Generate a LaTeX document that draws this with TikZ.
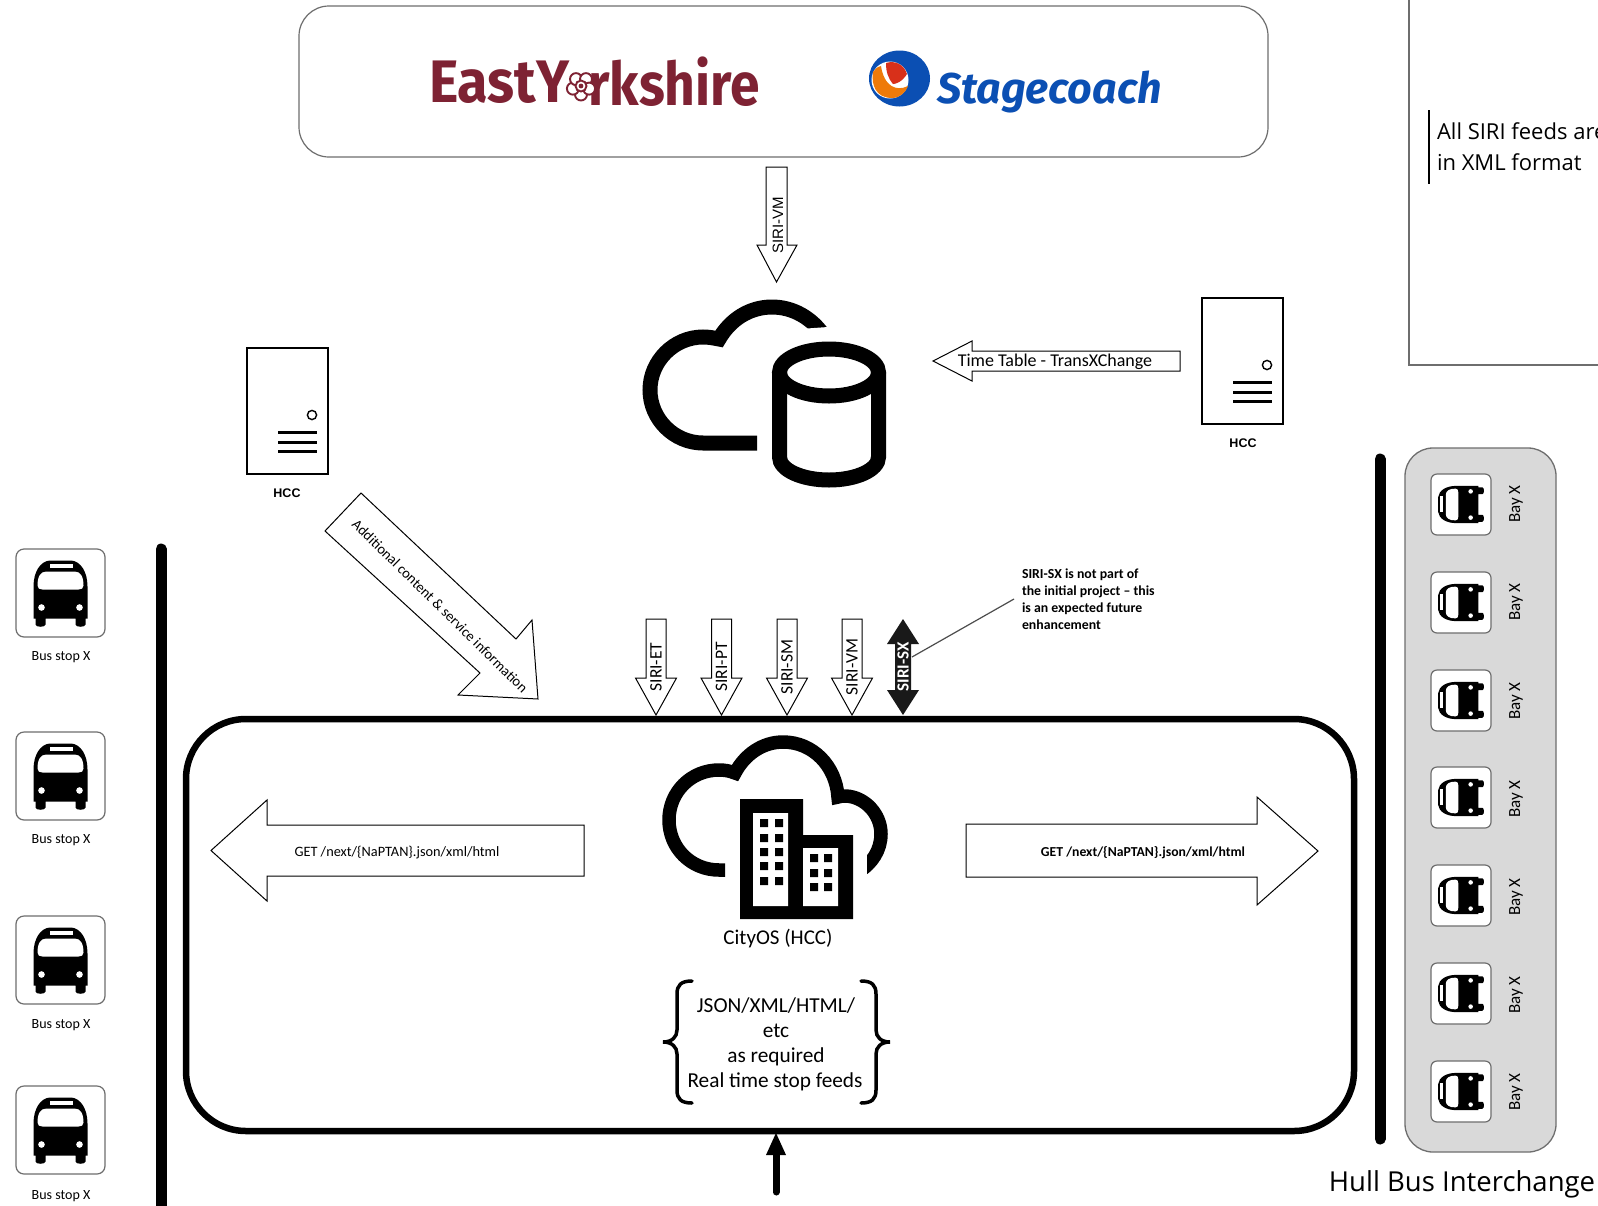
\documentclass[tikz,border=0pt]{standalone}
\usepackage{fontspec}
\setmainfont{Carlito}
\newfontfamily\logofont{Fira Sans}
\newfontfamily\uifont{Open Sans}
\newfontfamily\labelfont{Liberation Sans}
\newcommand{\pxsize}[1]{\fontsize{#1}{#1}\selectfont}
\definecolor{eyred}{HTML}{7E2233}
\definecolor{scblue}{HTML}{0B4FB3}
\definecolor{scorange}{HTML}{EE7A0A}
\definecolor{scred}{HTML}{D8301A}
\definecolor{baygrey}{HTML}{D9D9D9}
\definecolor{edgegrey}{HTML}{6E6E6E}
\tikzset{
  blockarrow/.style={draw=black,fill=white,line width=1pt,line join=miter},
  iconline/.style={draw=black,line width=15pt,line cap=butt,fill=none},
  cityline/.style={draw=black,line width=13.5pt,line cap=butt,fill=none},
  thickbar/.style={draw=black,line width=11pt,line cap=round},
  stopbox/.style={draw=edgegrey,fill=white,line width=1.2pt,rounded corners=8pt},
  braceline/.style={draw=black,line width=3.5pt,line cap=round,fill=none},
  txt/.style={inner sep=0pt,outer sep=0pt,align=center},
  pics/busicon/.style={code={
    \fill[black] (-11,-33) -- (11,-33) .. controls (20,-32) and (27,-22) .. (27,-7)
      -- (27,25) -- (25,25) -- (25,31) .. controls (25,34) and (15,34) .. (15,31) -- (15,25)
      -- (-15,25) -- (-15,31) .. controls (-15,34) and (-25,34) .. (-25,31) -- (-25,25) -- (-27,25) -- (-27,-7)
      .. controls (-27,-22) and (-20,-32) .. (-11,-33) -- cycle;
    \fill[white] (-23,-8) .. controls (-23,-17) and (-20,-22) .. (-14,-22) -- (14,-22)
      .. controls (20,-22) and (23,-17) .. (23,-8) .. controls (23,-5) and (21,-4) .. (18,-4)
      -- (-18,-4) .. controls (-21,-4) and (-23,-5) .. (-23,-8) -- cycle;
    \fill[white] (-11,-30) rectangle (12,-26);
    \fill[white] (-19,14) circle (3.3) (19,14) circle (3.3);
  }},
  pics/servericon/.style={code={
    \draw[black,fill=white,line width=1.4pt] (0,0) rectangle (81,126);
    \draw[black,line width=1.4pt] (65,67) circle (4.6);
    \draw[black,line width=3pt] (31,84) -- (70,84) (31,94) -- (70,94) (31,103) -- (70,103);
  }},
}
\newcommand{\siriarrow}[3]{% name, x, text
  \draw[blockarrow] (#2-10,619) -- (#2+10,619) -- (#2+10,678) -- (#2+20.5,678) -- (#2,715) -- (#2-20.5,678) -- (#2-10,678) -- cycle;
  \node[txt,rotate=90] (#1) at (#2,667) {\pxsize{17.5}#3};
}
\begin{document}
\begin{tikzpicture}[x=1pt,y=-1pt]
\useasboundingbox (0,0) rectangle (1598,1205);
\fill[white] (0,0) rectangle (1598,1205);

% legend frame, cut by the page
\draw[edgegrey,line width=1.2pt] (1409,-10) -- (1409,365) -- (1610,365);
\draw[black,line width=1.2pt] (1429,110) -- (1429,184);
\node[txt,anchor=west] (feedsA) at (1437,131.5) {\uifont\pxsize{22}All SIRI feeds are};
\node[txt,anchor=west] (feedsB) at (1437,162) {\uifont\pxsize{22}in XML format};

% operators
\draw[edgegrey,fill=white,line width=1.2pt,rounded corners=30pt] (299,6) rectangle (1268,157);
\node[txt,anchor=west,text=eyred,xscale=.93] (eastA) at (429,82) {\logofont\bfseries\pxsize{60}EastY};
\node[txt,anchor=east,text=eyred,xscale=.89] (eastB) at (760,82) {\logofont\bfseries\pxsize{60}rkshire};
\begin{scope}[shift={(581,86)}]
  \foreach \a in {0,72,144,216,288}{
    \draw[eyred,fill=white,line width=1.9pt] (\a+90:8.5) circle (6);
  }
  \draw[eyred,fill=white,line width=1.9pt] (0,0) circle (5.5);
  \fill[eyred] (0,0) circle (2.4);
\end{scope}
\fill[scblue] (899.5,78.5) ellipse (30.5 and 28);
\fill[white] (890,80) ellipse (18.5 and 18.5);
\fill[scorange] (873,72) .. controls (871,85) and (876,98) .. (892,98) .. controls (900,98) and (906,92) .. (908,86) .. controls (896,92) and (884,86) .. (881,66) .. controls (877,67) and (875,69) .. (873,72) -- cycle;
\fill[scred] (886,63) .. controls (896,60) and (904,65) .. (907,74) .. controls (902,82) and (896,84) .. (893,84) .. controls (888,78) and (886,72) .. (886,63) -- cycle;
\node[txt,anchor=west,text=scblue] (stage) at (937,92) {\logofont\bfseries\itshape\pxsize{43}Stagecoach};

% SIRI-VM feed
\draw[blockarrow] (766,167) -- (787,167) -- (787,245) -- (797,245) -- (776.5,282) -- (757,245) -- (766,245) -- cycle;
\node[txt,rotate=90] (vmTop) at (778,225) {\labelfont\pxsize{15}SIRI-VM};

% cloud and database
\draw[iconline] (757,443) -- (703,443) .. controls (674,443) and (650,419) .. (650,390)
  .. controls (650,361) and (674,337) .. (703,337) .. controls (709,337) and (714,338) .. (719,339)
  .. controls (730,320) and (749,307) .. (772,307) .. controls (793,307) and (812,318) .. (824,336);
\fill[white] (800,329) -- (828,327) -- (840,345) -- (800,345) -- cycle;
\draw[iconline] (829,372.5) ellipse (49.5 and 23.5);
\draw[iconline] (779.5,372.5) -- (779.5,457) .. controls (779.5,470) and (802,480) .. (829,480)
  .. controls (856,480) and (878.5,470) .. (878.5,457) -- (878.5,372.5);

% servers
\pic (serverR) at (1202,298) {servericon};
\node[txt] (hccR) at (1243,443) {\labelfont\bfseries\pxsize{12.5}HCC};
\pic (serverL) at (247,348) {servericon};
\node[txt] (hccL) at (287,493) {\labelfont\bfseries\pxsize{12.5}HCC};

% timetable
\draw[blockarrow] (1180,351) -- (972,351) -- (972,341) -- (933,361) -- (972,381) -- (972,371) -- (1180,371) -- cycle;
\node[txt] (tt) at (1055,362) {\pxsize{18}Time Table - TransXChange};

% additional content
\draw[blockarrow] (325,531) -- (361,493) -- (516,639) -- (532,620) -- (538,699) -- (458,695) -- (480,673) -- cycle;
\node[txt,rotate=-44.5] (addl) at (440,606) {\pxsize{14.5}Additional content \& service information};

% CityOS frame
\draw[black,line width=6.5pt,fill=white,rounded corners=60pt] (186,719) rectangle (1354,1131);

% SIRI feeds
\siriarrow{et}{656}{SIRI-ET}
\siriarrow{pt}{721.5}{SIRI-PT}
\siriarrow{sm}{787}{SIRI-SM}
\siriarrow{vmB}{852}{SIRI-VM}
\fill[black!90] (903,619) -- (919,644) -- (911,644) -- (911,690) -- (919,690) -- (903,715) -- (887,690) -- (895,690) -- (895,644) -- (887,644) -- cycle;
\node[txt,rotate=90,text=white] (sx) at (903,667) {\pxsize{17}\bfseries SIRI-SX};
\node[txt,anchor=north west,align=left,font={\fontsize{13.8}{16.9}\selectfont\bfseries}] (note) at (1022,569) {SIRI-SX is not part of\\the initial project -- this\\is an expected future\\enhancement};
\coordinate (noteEnd) at (1014,599);
\coordinate (sxEnd) at (912,657);
\draw[edgegrey!70!black,line width=1.2pt] (noteEnd) -- (sxEnd);

% CityOS icon
\draw[cityline] (725,870) -- (719,870) .. controls (691,870) and (669,848) .. (669,820)
  .. controls (669,792) and (691,770) .. (719,770) .. controls (725,770) and (730,771) .. (735,773)
  .. controls (745,754) and (763,742) .. (783,742) .. controls (813,742) and (836,766) .. (838,797)
  .. controls (841,796) and (843,796) .. (846,796) .. controls (865,797) and (881,814) .. (881,834)
  .. controls (881,850) and (872,864) .. (858,872);
\fill[white] (853,845) rectangle (867,885);
\fill[black] (740,799) -- (803,799) -- (803,835) -- (853,835) -- (853,919) -- (740,919) -- cycle;
\fill[white] (753,813) rectangle (788,906) (803,848) rectangle (838,906);
\foreach \r in {819,834,848,862,877}{\fill[black] (760,\r) rectangle +(8,8) (775,\r) rectangle +(8,8);}
\foreach \r in {854,869,883}{\fill[black] (810,\r) rectangle +(8,8) (824,\r) rectangle +(8,8);}
\node[txt] (city) at (778,938) {\pxsize{21}CityOS (HCC)};

% next arrows
\draw[blockarrow] (584,825) -- (267,825) -- (267,800) -- (211,850.5) -- (267,901) -- (267,876) -- (584,876) -- cycle;
\node[txt] (getL) at (397,853) {\pxsize{14.3}GET /next/\{NaPTAN\}.json/xml/html};
\draw[blockarrow] (966,824) -- (1257,824) -- (1257,797) -- (1318,851) -- (1257,905) -- (1257,877) -- (966,877) -- cycle;
\node[txt] (getR) at (1143,853) {\pxsize{13.7}\bfseries GET /next/\{NaPTAN\}.json/xml/html};

% braces
\draw[braceline] (692,981) .. controls (681,981) and (677,985) .. (677,994) -- (677,1030)
  .. controls (677,1037) and (672,1042) .. (663,1042) .. controls (672,1042) and (677,1047) .. (677,1054)
  -- (677,1090) .. controls (677,1099) and (681,1103) .. (692,1103);
\draw[braceline] (861,981) .. controls (872,981) and (876,985) .. (876,994) -- (876,1030)
  .. controls (876,1037) and (881,1042) .. (890,1042) .. controls (881,1042) and (876,1047) .. (876,1054)
  -- (876,1090) .. controls (876,1099) and (872,1103) .. (861,1103);
\node[txt] (fmtA) at (776,1006) {\pxsize{21.3}JSON/XML/HTML/};
\node[txt] (fmtB) at (776,1031) {\pxsize{21.3}etc};
\node[txt] (fmtC) at (776,1056.5) {\pxsize{21.3}as required};
\node[txt] (fmtD) at (775,1081.5) {\pxsize{21.3}Real time stop feeds};

% feed from below
\coordinate (inBottom) at (776,1192);
\coordinate (inTop) at (776,1152);
\draw[black,line width=7pt,line cap=round] (inBottom) -- (inTop);
\fill[black] (776,1133) -- (786,1155) -- (766,1155) -- cycle;

% bars
\draw[thickbar] (161,549) -- (161,1215);
\draw[thickbar] (1380,459) -- (1380,1139);

% bus stops
\foreach \n/\ty/\ly in {1/549/657,2/732/840,3/916/1025,4/1086/1196}{
  \draw[stopbox] (16,\ty) rectangle +(89,88);
  \pic (bus\n) at (60.5,\ty+44.5) {busicon};
  \node[txt] (stop\n) at (61,\ly) {\pxsize{14}Bus stop X};
}

% interchange
\draw[edgegrey,fill=baygrey,line width=1.3pt,rounded corners=28pt] (1405,448) rectangle (1556,1152);
\foreach \n/\ty/\by in {1/474/504,2/572/602,3/670/701,4/767/799,5/865/897,6/963/995,7/1061/1092}{
  \draw[stopbox,rounded corners=6pt] (1431,\ty) rectangle +(60,61);
  \pic[transform shape,rotate=90,scale=.69] (bay\n) at (1461,\ty+30.5) {busicon};
  \node[txt,rotate=90] (bayl\n) at (1516,\by) {\pxsize{17}Bay X};
}
\node[txt] (hull) at (1462,1184) {\uifont\pxsize{27.5}Hull Bus Interchange};
\end{tikzpicture}
\end{document}
